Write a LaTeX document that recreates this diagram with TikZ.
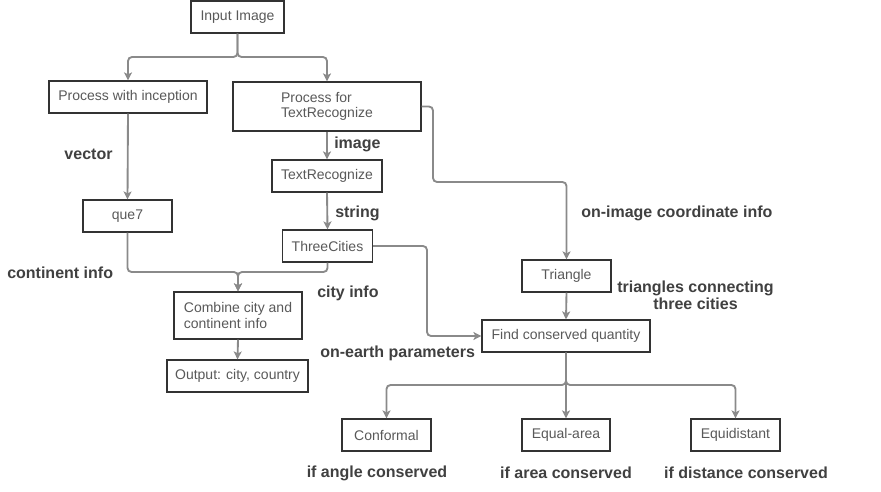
\documentclass[tikz,border=0pt]{standalone}
\usepackage{fontspec}
\setmainfont{Liberation Sans}
\usetikzlibrary{arrows.meta}
\definecolor{boxtext}{HTML}{595959}
\definecolor{labtext}{HTML}{404040}
\definecolor{linegray}{HTML}{8A8A8A}
\definecolor{boxline}{HTML}{333333}
\tikzset{
  box/.style={draw=boxline, line width=0.9pt, fill=white, inner sep=0pt, text=boxtext,
    font=\fontsize{10.5pt}{11.5pt}\selectfont, minimum height=24pt},
  lab/.style={text=labtext, inner sep=0pt, font=\fontsize{12pt}{12.5pt}\selectfont\bfseries},
  conn/.style={draw=linegray, line width=1.4pt, rounded corners=3pt,
    -{Stealth[length=6pt,width=6pt,inset=1.5pt]}},
  plain/.style={draw=linegray, line width=1.4pt, rounded corners=3pt}
}
\begin{document}
\begin{tikzpicture}[x=0.75pt,y=-0.75pt]
\useasboundingbox (0,0) rectangle (881,492);
% boxes
\node[box, minimum width=69.75pt] (in) at (237.5,17) {Input Image};
\node[box, minimum width=118.5pt] (inc) at (128,97) {Process with inception};
\node[box, minimum width=141pt, minimum height=36.75pt, align=left] (ptr) at (327,106.5) {Process for\\TextRecognize};
\node[box, minimum width=82.5pt] (tr) at (327,176) {TextRecognize};
\node[box, minimum width=66.75pt] (que) at (127.5,216) {que7};
\node[box, minimum width=67.5pt] (tc) at (327.5,246) {ThreeCities};
\node[box, minimum width=96pt, minimum height=35.25pt, align=left] (comb) at (238,315.5) {Combine city and\\continent info};
\node[box, minimum width=105.75pt] (out) at (237.5,376) {Output: city, country};
\node[box, minimum width=66.75pt] (tri) at (566.5,276) {Triangle};
\node[box, minimum width=126pt] (find) at (566,336) {Find conserved quantity};
\node[box, minimum width=66.75pt] (conf) at (386.5,435) {Conformal};
\node[box, minimum width=66pt] (eqa) at (566,435) {Equal-area};
\node[box, minimum width=66.75pt] (eqd) at (735.5,435) {Equidistant};
% junction coordinates
\coordinate (j1) at (237.5,57);
\coordinate (j2) at (238,272);
\coordinate (j3) at (566,385);
\coordinate (r1) at (433,182);
\coordinate (r2) at (427,336);
% connectors
\draw[conn] (in.south) -- (j1) -| (inc.north);
\draw[conn] (in.south) -- (j1) -| (ptr.north);
\draw[conn] (inc.south) -- (que.north);
\draw[conn] (ptr.south) -- (tr.north);
\draw[conn] (tr.south) -- (tc.north);
\draw[conn] (que.south) |- (j2) -- (comb.north);
\draw[conn] (tc.south) |- (j2) -- (comb.north);
\draw[conn] (comb.south) -- (out.north);
\draw[conn] (ptr.east) -| (r1) -| (tri.north);
\draw[conn] (tc.east) -| (r2) -- (find.west);
\draw[conn] (tri.south) -- (find.north);
\draw[conn] (find.south) -- (j3) -| (conf.north);
\draw[conn] (find.south) -- (j3) -| (eqd.north);
\draw[conn] (find.south) -- (eqa.north);
% labels
\node[lab] (lvec) at (88.5,154) {vector};
\node[lab, anchor=west] (limg) at (334,144) {image};
\node[lab, anchor=west] (lstr) at (335,213) {string};
\node[lab, anchor=west] (lcont) at (7,273) {continent info};
\node[lab, anchor=west] (lcity) at (317,293) {city info};
\node[lab, anchor=west] (learth) at (320,353) {on-earth parameters};
\node[lab, anchor=west] (lcoord) at (581,213) {on-image coordinate info};
\node[lab, align=center] (ltri) at (695.5,295) {triangles connecting\\three cities};
\node[lab] (lang) at (377,473) {if angle conserved};
\node[lab] (lare) at (566,473) {if area conserved};
\node[lab] (ldis) at (746,473) {if distance conserved};
\end{tikzpicture}
\end{document}
